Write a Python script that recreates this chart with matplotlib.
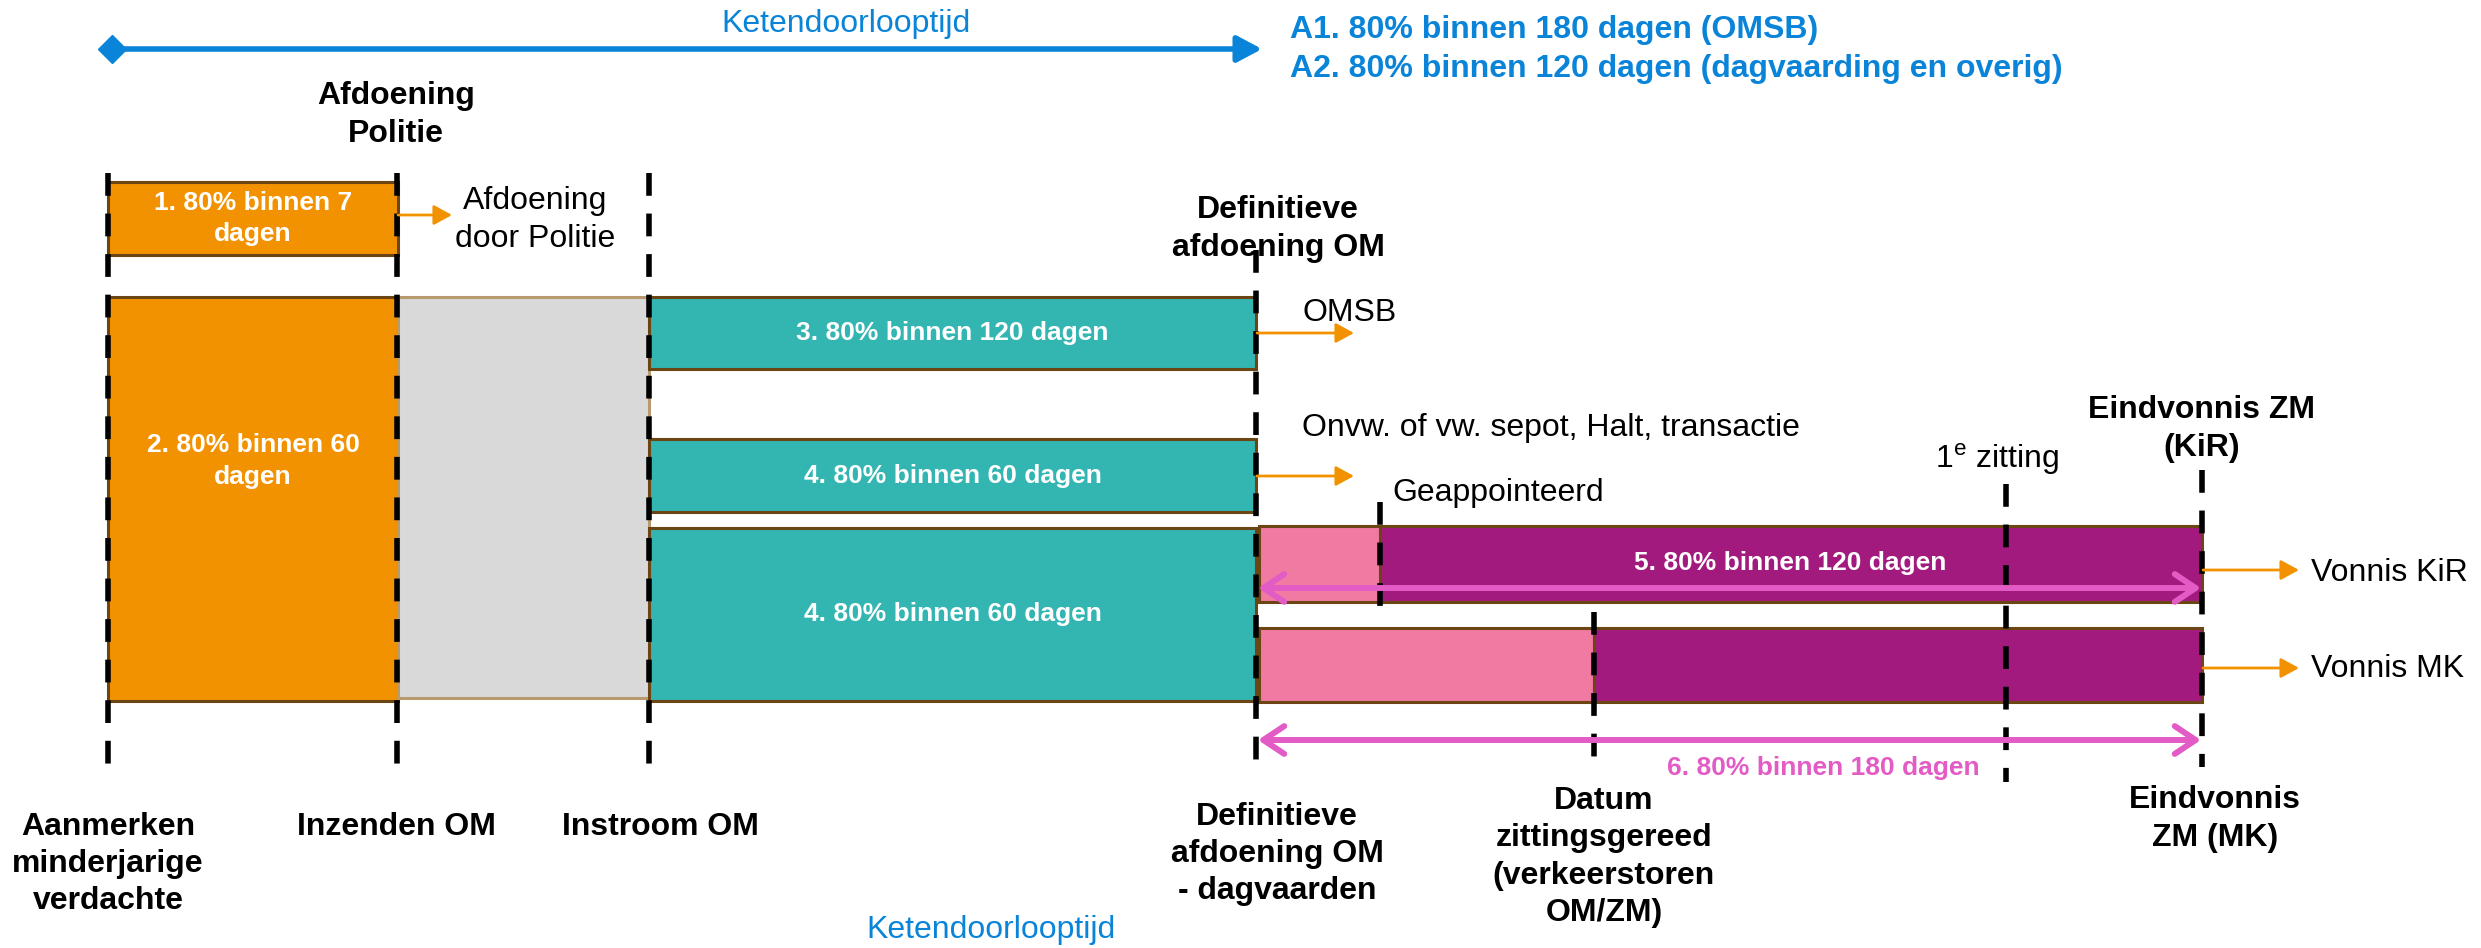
import matplotlib
matplotlib.use("Agg")
import matplotlib.pyplot as plt
from matplotlib.patches import FancyArrowPatch

plt.rcParams['font.family'] = ['Liberation Sans', 'DejaVu Sans']
plt.rcParams['mathtext.fontset'] = 'custom'
plt.rcParams['mathtext.rm'] = 'Liberation Sans'

W, H = 2481, 948

ORANGE = "#F39200"
TEAL = "#33B5B2"
GREY = "#D9D9D9"
PINK = "#F07AA2"
PURPLE = "#A21A7D"
MAGENTA = "#E35BC4"
BLUE = "#0A84D8"
EDGE = "#6B4513"

# milestones (schematic positions, px of the 2481x948 canvas)
milestone_x = [108, 397, 649, 1256, 1380, 1594, 2006, 2202]
milestone_top = [173, 173, 173, 250, 502, 612, 484, 470]
milestone_bottom = [768, 768, 768, 767, 609, 762, 782, 767]

# boxes
box_left = [108, 108, 398, 649, 649, 649, 1259, 1380, 1259, 1594]
box_right = [398, 398, 649, 1256, 1256, 1256, 1380, 2202, 1594, 2202]
box_top = [182, 297, 297, 297, 439, 528, 526, 526, 628, 628]
box_bottom = [255, 701, 698, 369, 512, 701, 602, 602, 702, 702]
box_colors = [ORANGE, ORANGE, GREY, TEAL, TEAL, TEAL, PINK, PURPLE, PINK, PURPLE]
box_labels = ["1. 80% binnen 7\ndagen", "2. 80% binnen 60\ndagen", "",
              "3. 80% binnen 120 dagen", "4. 80% binnen 60 dagen",
              "4. 80% binnen 60 dagen", "", "", "", ""]
box_label_dy = [0, -38, 0, 0, 0, 0, 0, 0, 0, 0]

# small orange flow arrows: (x start, x end, y)
flow_x0 = [398, 1257, 1257, 2203, 2203]
flow_x1 = [452, 1354, 1354, 2299, 2299]
flow_y = [215, 333, 476, 570, 668]

# pink span arrows
span_x0 = [1258, 1258]
span_x1 = [2201, 2201]
span_y = [588, 740]

# chain span arrow (top)
chain_x0, chain_x1, chain_y = 108, 1262, 49

fig = plt.figure(figsize=(W / 100, H / 100), dpi=100)
ax = fig.add_axes([0, 0, 1, 1])
ax.set_xlim(0, W)
ax.set_ylim(H, 0)
ax.axis("off")

# boxes
centers = [(t + b) / 2 for t, b in zip(box_top, box_bottom)]
heights = [b - t for t, b in zip(box_top, box_bottom)]
widths = [r - l for l, r in zip(box_left, box_right)]
for i in range(len(box_left)):
    ec = "#B89A70" if box_colors[i] == GREY else EDGE
    ax.barh(centers[i], widths[i], left=box_left[i], height=heights[i],
            color=box_colors[i], edgecolor=ec, linewidth=2.2, zorder=1)
    if box_labels[i]:
        ax.text(box_left[i] + widths[i] / 2, centers[i] + box_label_dy[i], box_labels[i],
                ha="center", va="center", color="white", fontsize=19,
                fontweight="bold", linespacing=1.4, zorder=5)

# dashed milestone lines
for x, t, b in zip(milestone_x, milestone_top, milestone_bottom):
    ax.plot([x, x], [t, b], color="black", lw=4.0, ls=(0, (4.1, 3.2)), zorder=3)

# blue span arrow: diamond start, triangle end
ax.add_patch(FancyArrowPatch((chain_x0, chain_y), (chain_x1, chain_y),
                             arrowstyle="-|>,head_length=0.75,head_width=0.4",
                             mutation_scale=20, color=BLUE, lw=4.0, shrinkA=0, shrinkB=0, zorder=4))
ax.plot([chain_x0 + 4], [chain_y], marker="D", ms=14, color=BLUE, mec=BLUE, zorder=4)

for x0, x1, y in zip(flow_x0, flow_x1, flow_y):
    ax.add_patch(FancyArrowPatch((x0, y), (x1, y), arrowstyle="-|>,head_length=0.55,head_width=0.3",
                                 mutation_scale=20, color=ORANGE, lw=2.0, shrinkA=0, shrinkB=0, zorder=4))

for x0, x1, y in zip(span_x0, span_x1, span_y):
    ax.add_patch(FancyArrowPatch((x0, y), (x1, y), arrowstyle="<->,head_length=0.75,head_width=0.5",
                                 mutation_scale=20, color=MAGENTA, lw=4.3, shrinkA=0, shrinkB=0,
                                 capstyle="round", joinstyle="round", zorder=4))

# texts
bold = dict(fontsize=23, fontweight="bold", color="black", ha="center", va="center", linespacing=1.32)
normal = dict(fontsize=23, color="black", va="center")

ax.text(846, 24, "Ketendoorlooptijd", fontsize=23, color=BLUE, ha="center", va="center")
ax.text(991, 930, "Ketendoorlooptijd", fontsize=23, color=BLUE, ha="center", va="center")
ax.text(1290, 30, "A1. 80% binnen 180 dagen (OMSB)", fontsize=23, fontweight="bold", color=BLUE, va="center")
ax.text(1290, 69, "A2. 80% binnen 120 dagen (dagvaarding en overig)", fontsize=23, fontweight="bold",
        color=BLUE, va="center")

ax.text(396, 115, "Afdoening\nPolitie", **bold)
ax.text(535, 220, "Afdoening\ndoor Politie", ha="center", linespacing=1.32, **normal)
ax.text(1278, 229, "Definitieve\nafdoening OM", **bold)
ax.text(1302, 313, "OMSB", **normal)
ax.text(1302, 428, "Onvw. of vw. sepot, Halt, transactie", **normal)
ax.text(1392, 493, "Geappointeerd", **normal)
ax.text(1997, 459, r"1$^{\mathrm{e}}$ zitting", ha="center", **normal)
ax.text(2202, 429, "Eindvonnis ZM\n(KiR)", **bold)
ax.text(1790, 563, "5. 80% binnen 120 dagen", fontsize=19, fontweight="bold", color="white",
        ha="center", va="center", zorder=5)
ax.text(2311, 573, "Vonnis KiR", **normal)
ax.text(2311, 669, "Vonnis MK", **normal)
ax.text(1823, 768, "6. 80% binnen 180 dagen", fontsize=19, fontweight="bold", color=MAGENTA,
        ha="center", va="center")

ax.text(108, 864, "Aanmerken\nminderjarige\nverdachte", **bold)
ax.text(396, 827, "Inzenden OM", **bold)
ax.text(660, 827, "Instroom OM", **bold)
ax.text(1277, 854, "Definitieve\nafdoening OM\n- dagvaarden", **bold)
ax.text(1604, 857, "Datum\nzittingsgereed\n(verkeerstoren\nOM/ZM)", **bold)
ax.text(2215, 819, "Eindvonnis\nZM (MK)", **bold)

fig.savefig("out.png", dpi=100)
